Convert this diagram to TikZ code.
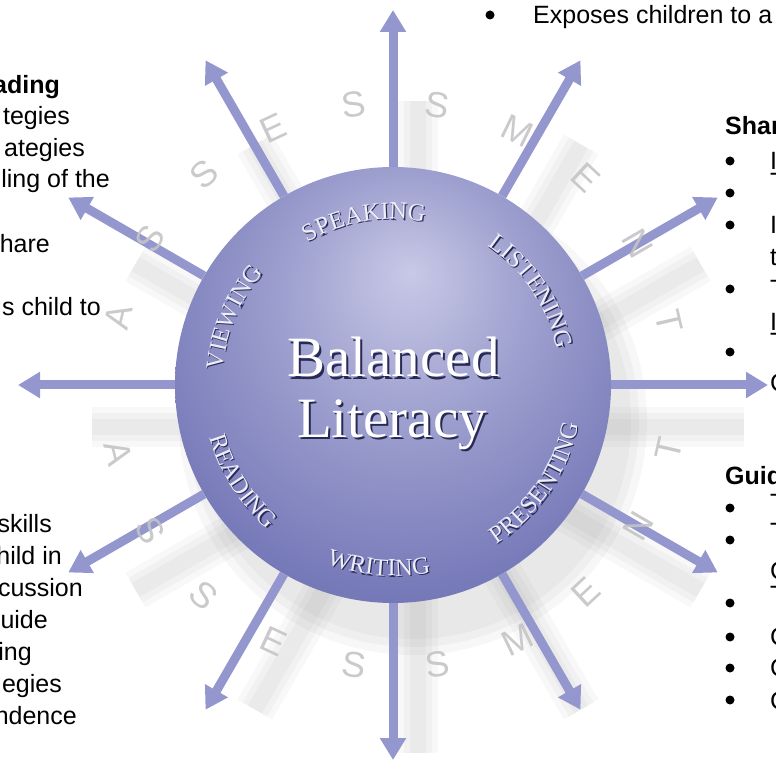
\documentclass[tikz,border=0pt]{standalone}
\usepackage{fontspec}
\setmainfont{Liberation Sans}
\newfontfamily\ballfont{Liberation Serif}
\usetikzlibrary{arrows.meta,calc,decorations.text}

\definecolor{rayblue}{RGB}{148,151,206}
\definecolor{ringgray}{RGB}{196,196,198}
\definecolor{ballhi}{RGB}{200,201,230}
\definecolor{ballmid}{RGB}{158,160,207}
\definecolor{balllow}{RGB}{120,123,185}
\definecolor{ballrim}{RGB}{94,98,162}
\definecolor{balledge}{RGB}{78,82,146}
\definecolor{skillwhite}{RGB}{238,238,248}
\definecolor{embossdark}{RGB}{40,42,84}

\pgfdeclareradialshading{literacyball}{\pgfpoint{2bp}{13bp}}{%
  color(0bp)=(ballhi); color(14bp)=(ballmid); color(30bp)=(balllow);
  color(46bp)=(ballrim); color(64bp)=(balledge)}

\newcommand{\skillfont}{\ballfont\fontsize{24.5}{24.5}\selectfont}
\newcommand{\skillarc}[4]{%
  \path[decorate,decoration={text along path,text align=center,
    text={|\skillfont\color{embossdark}|#4}}]
    ($(c)+(#1:#3)+(1.2,-1.2)$) arc (#1:#2:#3);
  \path[decorate,decoration={text along path,text align=center,
    text={|\skillfont\color{skillwhite}|#4}}]
    ($(c)+(#1:#3)$) arc (#1:#2:#3);}

\begin{document}
\begin{tikzpicture}[x=1pt,y=1pt,
  ray/.style={draw=rayblue,line width=9pt,-{Triangle[width=25pt,length=22pt]}},
  rayshade/.style={draw=black,opacity=0.026},
  ringletter/.style={text=ringgray,opacity=0.9,font=\fontsize{36}{36}\selectfont},
  balltext/.style={font=\ballfont\fontsize{57}{60}\selectfont,anchor=base,inner sep=0pt},
  side/.style={font=\fontsize{25}{30}\selectfont,inner sep=0pt},
  sidehead/.style={side,font=\fontsize{25}{30}\selectfont\bfseries}]
\useasboundingbox (0,0) rectangle (776,772);
\coordinate (c) at (393,387);
\foreach \a [count=\i] in {90,60,...,-240}
  \coordinate (t\i) at ($(c)+(\a:375)$);

\foreach \r in {234,226,218}
  \fill[black,opacity=0.03] ($(c)+(20,-36)$) circle (\r);
\foreach \i in {1,...,12}
  \foreach \w in {40,28,16}
    \draw[rayshade,line width=\w pt] ($(c)+(25,-42)$) -- ($(c)!0.87!(t\i)+(25,-42)$);

\node[circle,minimum size=436pt,inner sep=0pt,shade,shading=literacyball] (hub) at (c) {};
\foreach \i in {1,...,12}
  \draw[ray] (hub) -- (t\i);

\foreach \ch [count=\i from 0] in {A,S,S,E,S,S,M,E,N,T} {
  \pgfmathsetmacro{\up}{166-17*\i}
  \pgfmathsetmacro{\lo}{-166+17*\i}
  \node[ringletter,rotate=\up-90] (top\i) at ($(c)+(\up:283)$) {\ch};
  \node[ringletter,rotate=\lo+90] (bot\i) at ($(c)+(\lo:283)$) {\ch};
}

\node[balltext,text=embossdark] (balancedshade) at (395.5,392.5) {Balanced};
\node[balltext,text=white] (balanced) at (393.5,395) {Balanced};
\node[balltext,text=embossdark] (literacyshade) at (394,332.5) {Literacy};
\node[balltext,text=white] (literacy) at (392,335) {Literacy};

\skillarc{130}{70}{166}{SPEAKING}
\skillarc{64}{4}{168}{LISTENING}
\skillarc{187}{127}{171}{VIEWING}
\skillarc{-65}{-4}{190}{PRESENTING}
\skillarc{-125}{-64}{191}{WRITING}
\skillarc{-178}{-117}{191}{READING}

\fill (490,757) circle (4.5);
\node[side,anchor=base west] (expose) at (533,748) {Exposes children to a};

\node[sidehead,anchor=base east] (readhead) at (60,678) {ading};
\foreach \txt/\x/\y [count=\i] in {tegies/70/647,ategies/85/615,ling of the/110/584,
    hare/50/519,s child to/101/456,skills/52/240,hild in/62/208,cussion/83/176,
    uide/48/144,ing/32/112,egies/62/80,ndence/77/48}
  \node[side,anchor=base east] (lt\i) at (\x,\y) {\txt};

\node[sidehead,anchor=base west] (sharehead) at (725,637) {Shar};
\node[sidehead,anchor=base west] (guidehead) at (725,288) {Guid};
\foreach \y in {611,579,547,483,420,264,232,169,135,104,72}
  \fill (730,\y) circle (4.5);
\foreach \txt/\y [count=\i] in {I/602,T/581,I/538,t/506,T/474,I/441,T/421,C/380,
    T/261,T/232,C/193,T/169,C/127,C/96,C/63}
  \node[side,anchor=base west] (rt\i) at (770,\y) {\txt};
\end{tikzpicture}
\end{document}
